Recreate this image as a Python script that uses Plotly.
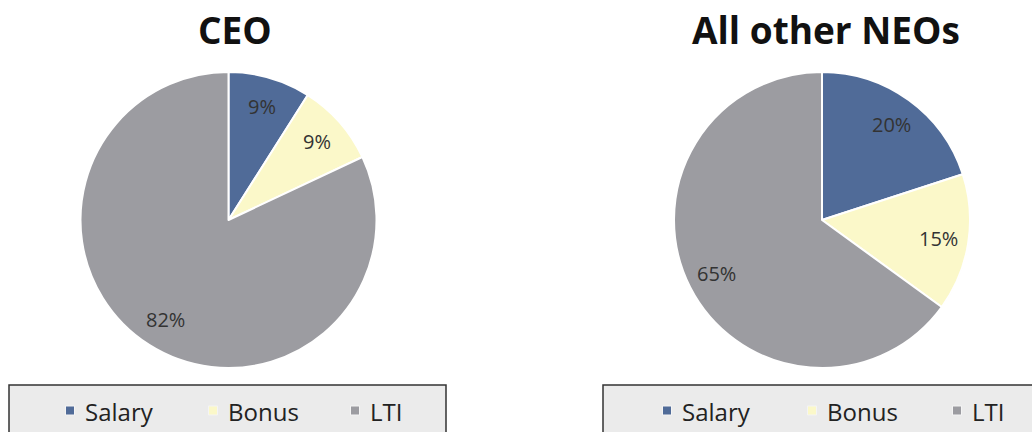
import math
import plotly.graph_objects as go

categories = ["Salary", "Bonus", "LTI"]
ceo_values = [9, 9, 82]
neo_values = [20, 15, 65]
titles = ["CEO", "All other NEOs"]
colors = ["#506b98", "#fbf8c9", "#9c9ca1"]

W, H = 1032, 432
FONT = "Open Sans"

# pie geometry (pixels)
pies = [
    {"cx": 228.5, "cy": 220.0, "R": 148, "values": ceo_values, "title": titles[0], "tx": 235},
    {"cx": 822.0, "cy": 220.0, "R": 148, "values": neo_values, "title": titles[1], "tx": 826},
]

fig = go.Figure()
annotations = []
shapes = []

for p in pies:
    cx, cy, R = p["cx"], p["cy"], p["R"]
    fig.add_trace(go.Pie(
        labels=categories, values=p["values"], sort=False, direction="clockwise",
        rotation=0, textinfo="none", hoverinfo="label+percent",
        marker=dict(colors=colors, line=dict(color="white", width=2)),
        domain=dict(x=[(cx - R) / W, (cx + R) / W], y=[1 - (cy + R) / H, 1 - (cy - R) / H]),
        showlegend=False,
    ))
    total = sum(p["values"])
    cum = 0
    for v in p["values"]:
        mid = (cum + v / 2) / total * 2 * math.pi
        cum += v
        px = cx + 0.8 * R * math.sin(mid)
        py = cy - 0.8 * R * math.cos(mid)
        annotations.append(dict(x=px / W, y=1 - py / H, xref="paper", yref="paper",
                                text=f"{v}%", showarrow=False,
                                xanchor="center", yanchor="middle",
                                font=dict(family=FONT, size=20, color="#333333")))
    annotations.append(dict(x=p["tx"] / W, y=1 - 29 / H, xref="paper", yref="paper",
                            text=f"<b>{p['title']}</b>", showarrow=False,
                            xanchor="center", yanchor="middle",
                            font=dict(family=FONT, size=37, color="#111111")))

# legend boxes
legend_boxes = [
    {"x0": 9, "x1": 446, "marker_x": [70, 213, 355]},
    {"x0": 603, "x1": 1045, "marker_x": [667, 812, 957]},
]
for box in legend_boxes:
    shapes.append(dict(type="rect", xref="paper", yref="paper",
                       x0=box["x0"] / W, x1=box["x1"] / W,
                       y0=1 - 440 / H, y1=1 - 385 / H,
                       fillcolor="#ebebeb", line=dict(color="#333333", width=1.5),
                       layer="below"))
    for cat, col, mx in zip(categories, colors, box["marker_x"]):
        shapes.append(dict(type="rect", xref="paper", yref="paper",
                           x0=(mx - 4.5) / W, x1=(mx + 4.5) / W,
                           y0=1 - 415 / H, y1=1 - 406 / H,
                           fillcolor=col, line=dict(color="#f4f4f4", width=1)))
        annotations.append(dict(x=(mx + 13) / W, y=1 - 411 / H, xref="paper", yref="paper",
                                text=cat, showarrow=False, xanchor="left", yanchor="middle",
                                font=dict(family=FONT, size=24, color="#222222")))

fig.update_layout(
    width=W, height=H, margin=dict(l=0, r=0, t=0, b=0),
    paper_bgcolor="white", plot_bgcolor="white",
    annotations=annotations, shapes=shapes, showlegend=False,
)

fig.write_html("out.html", config={"displayModeBar": False},
               post_script="document.body.style.margin='0';document.body.style.overflow='hidden';")
